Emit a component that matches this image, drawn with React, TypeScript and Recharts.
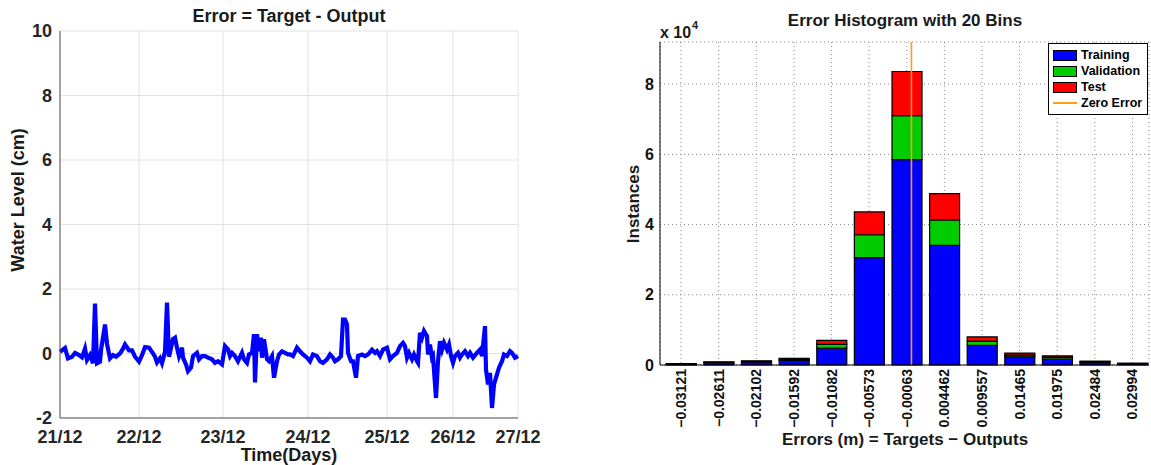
import React from 'react';
import { LineChart, Line, XAxis, YAxis, CartesianGrid, BarChart, Bar, ReferenceLine, Legend } from 'recharts';

const FONT = "'Liberation Sans', Arial, Helvetica, sans-serif";

// ---------- Left chart: error time series ----------
const sampleIdx = [
  0, 5, 8, 12, 15, 19, 22, 25, 27, 30, 33, 35, 37, 40, 41, 45, 47, 50, 53, 56,
  60, 63, 65, 69, 72, 75, 79, 82, 85, 89, 92, 95, 97, 100, 102, 105, 107, 109, 113, 115,
  117, 119, 122, 123, 126, 128, 131, 133, 137, 139, 142, 145, 148, 152, 155, 158, 162, 165, 168, 170,
  172, 175, 178, 182, 184, 187, 189, 192, 194, 195, 197, 199, 201, 202, 204, 207, 209, 212, 214, 217,
  219, 222, 225, 228, 230, 233, 237, 240, 243, 247, 250, 253, 257, 260, 263, 267, 270, 273, 275, 278,
  281, 283, 285, 287, 288, 291, 293, 296, 298, 302, 305, 308, 312, 315, 317, 320, 323, 327, 330, 333,
  337, 340, 343, 345, 347, 349, 352, 354, 357, 358, 360, 362, 364, 367, 368, 370, 372, 373, 376, 378,
  380, 382, 384, 387, 389, 391, 393, 395, 398, 400, 402, 405, 408, 410, 413, 417, 420, 422, 425, 426,
  428, 430, 432, 434, 437, 439, 442, 444, 447, 450, 452, 455, 458,
];
const errorCm = [
  0.05, 0.17, -0.15, -0.1, 0.02, -0.05, -0.12, 0.15, -0.2, -0.05, -0.3, 1.55, -0.3, -0.25, 0.1, 0.9, 0.3, -0.15, -0.05, -0.1,
  0.0, 0.15, 0.28, 0.1, 0.1, -0.1, -0.25, -0.05, 0.2, 0.18, 0.05, -0.1, -0.28, -0.15, -0.3, 0.05, 1.58, -0.1, 0.45, 0.49,
  0.18, -0.08, 0.18, -0.13, -0.34, -0.55, -0.44, -0.08, 0.02, -0.18, -0.08, -0.08, -0.13, -0.18, -0.29, -0.24, -0.34, 0.23, 0.13, -0.08,
  0.02, -0.08, -0.24, 0.02, -0.18, -0.29, -0.03, 0.02, 0.6, -0.9, 0.6, 0.07, 0.49, -0.13, 0.44, -0.18, -0.24, -0.08, -0.75, -0.24,
  -0.03, 0.07, 0.02, -0.03, -0.03, -0.08, 0.18, 0.07, -0.03, -0.13, -0.24, -0.03, -0.08, -0.24, -0.29, -0.18, -0.03, -0.13, -0.24, -0.18,
  -0.08, 1.05, 1.05, 0.9, 0.02, -0.24, -0.24, -0.75, -0.08, -0.03, -0.08, -0.03, 0.12, 0.02, 0.07, -0.08, 0.12, 0.18, -0.18, -0.08,
  0.02, 0.23, 0.33, 0.23, -0.13, 0.02, -0.18, -0.03, -0.24, -0.29, 0.64, 0.49, 0.7, 0.54, -0.03, 0.28, -0.13, -0.08, -1.38, -0.24,
  0.38, 0.12, 0.33, 0.12, 0.28, -0.08, -0.29, -0.08, 0.02, -0.13, -0.03, 0.07, -0.08, 0.02, -0.13, 0.02, 0.12, -0.08, 0.85, -0.5,
  -0.96, -0.6, -1.69, -0.96, -0.65, -0.44, -0.24, -0.03, -0.08, 0.07, 0.02, -0.13, -0.08,
];
const dayTickIdx = [0, 79, 163, 248, 327, 393, 458];
const dayLabels = ['21/12', '22/12', '23/12', '24/12', '25/12', '26/12', '27/12'];
const levelTicks = [-2, 0, 2, 4, 6, 8, 10];

// ---------- Right chart: error histogram ----------
const binCenters = [-0.03121, -0.02611, -0.02102, -0.01592, -0.01082, -0.00573, -0.00063, 0.004462, 0.009557, 0.01465, 0.01975, 0.02484, 0.02994];
const binLabels = ['\u22120.03121', '\u22120.02611', '\u22120.02102', '\u22120.01592', '\u22120.01082', '\u22120.00573', '\u22120.00063', '0.004462', '0.009557', '0.01465', '0.01975', '0.02484', '0.02994'];
const trainingCounts = [300, 650, 850, 1300, 4800, 30600, 58500, 34100, 5600, 2300, 1700, 700, 350];
const validationCounts = [50, 130, 180, 300, 1100, 6500, 12500, 7200, 1200, 500, 450, 200, 80];
const testCounts = [50, 130, 180, 300, 1100, 6500, 12600, 7500, 1200, 600, 450, 200, 80];
const instanceTicks = [0, 20000, 40000, 60000, 80000];
const seriesNames = ['Training', 'Validation', 'Test', 'Zero Error'];
const seriesColors = ['#0000FF', '#00CC00', '#FF0000', '#FF9A1A'];

const lineData = sampleIdx.map((idx, i) => ({ idx, err: errorCm[i] }));
const histData = binCenters.map((center, i) => ({
  center,
  training: trainingCounts[i],
  validation: validationCounts[i],
  test: testCounts[i],
}));
const binStep = (binCenters[binCenters.length - 1] - binCenters[0]) / (binCenters.length - 1);
const binDomain = [binCenters[0] - binStep * 0.56, binCenters[binCenters.length - 1] + binStep * 0.44];

const BinTick = (props: any) => {
  const { x, y, payload } = props;
  const i = binCenters.indexOf(payload.value);
  return (
    <text
      x={x}
      y={y}
      transform={`rotate(-90 ${x} ${y})`}
      textAnchor="end"
      dominantBaseline="central"
      fontFamily={FONT}
      fontWeight="bold"
      fontSize={14}
      fill="#111"
    >
      {binLabels[i]}
    </text>
  );
};

const HistLegend = () => (
  <div
    style={{
      border: '1px solid #000',
      background: '#fff',
      padding: '3px 3px 3px 4px',
      fontFamily: FONT,
      fontWeight: 'bold',
      fontSize: 12.5,
      lineHeight: '16px',
      color: '#000',
      width: 91,
      whiteSpace: 'nowrap',
    }}
  >
    {seriesNames.map((name, i) => (
      <div key={name} style={{ display: 'flex', alignItems: 'center', height: 16 }}>
        {i < 3 ? (
          <span style={{ display: 'inline-block', flex: '0 0 24px', width: 24, height: 11, background: seriesColors[i], border: '1px solid #000', boxSizing: 'border-box', marginRight: 4 }} />
        ) : (
          <span style={{ display: 'inline-block', flex: '0 0 24px', width: 24, height: 2, background: seriesColors[i], marginRight: 4 }} />
        )}
        <span>{name}</span>
      </div>
    ))}
  </div>
);

const textStyle = { fontFamily: FONT, fontWeight: 'bold' as const, fill: '#1a1a1a' };

export default function App() {
  return (
    <div style={{ position: 'absolute', left: 0, top: 0, width: 1151, height: 465, background: '#fff', overflow: 'hidden' }}>
      <div style={{ position: 'absolute', left: 0, top: 0 }}>
        <LineChart width={560} height={465} data={lineData} margin={{ top: 31, right: 42, bottom: 0, left: 0 }}>
          <CartesianGrid xAxisId="b" yAxisId="l" stroke="#e2e2e2" strokeWidth={1} />
          <XAxis
            xAxisId="b"
            type="number"
            dataKey="idx"
            domain={[0, 458]}
            ticks={dayTickIdx}
            interval={0}
            tickFormatter={(v: number) => dayLabels[dayTickIdx.indexOf(v)]}
            height={47}
            tickLine={false}
            tickMargin={6}
            axisLine={{ stroke: '#555' }}
            tick={{ fill: '#262626', fontSize: 18, fontWeight: 'bold', fontFamily: FONT }}
          />
          <XAxis xAxisId="t" orientation="top" type="number" dataKey="idx" domain={[0, 458]} height={0} tick={false} tickLine={false} axisLine={{ stroke: '#555' }} />
          <YAxis
            yAxisId="l"
            type="number"
            domain={[-2, 10]}
            ticks={levelTicks}
            interval={0}
            width={60}
            tickLine={false}
            axisLine={{ stroke: '#555' }}
            tick={{ fill: '#262626', fontSize: 18, fontWeight: 'bold', fontFamily: FONT }}
          />
          <YAxis yAxisId="r" orientation="right" type="number" domain={[-2, 10]} width={0} tick={false} tickLine={false} axisLine={{ stroke: '#555' }} />
          <Line xAxisId="b" yAxisId="l" type="linear" dataKey="err" stroke="#0000FF" strokeWidth={4.2} strokeLinejoin="miter" dot={false} isAnimationActive={false} />
        </LineChart>
      </div>

      <div style={{ position: 'absolute', left: 580, top: 0 }}>
        <BarChart width={571} height={465} data={histData} margin={{ top: 42, right: 2, bottom: 0, left: 20 }}>
          <CartesianGrid xAxisId="b" yAxisId="l" stroke="#888" strokeDasharray="1 3" />
          <XAxis
            xAxisId="b"
            type="number"
            dataKey="center"
            domain={binDomain}
            ticks={binCenters}
            interval={0}
            allowDataOverflow
            height={100}
            tickSize={0}
            tickMargin={4}
            tickLine={false}
            axisLine={{ stroke: '#000' }}
            tick={<BinTick />}
          />
          <XAxis xAxisId="t" orientation="top" type="number" dataKey="center" domain={binDomain} allowDataOverflow height={0} tick={false} tickLine={false} axisLine={{ stroke: '#000' }} />
          <YAxis
            yAxisId="l"
            type="number"
            domain={[0, 92000]}
            ticks={instanceTicks}
            interval={0}
            width={60}
            tickLine={false}
            tickMargin={0}
            axisLine={{ stroke: '#000' }}
            tickFormatter={(v: number) => String(v / 10000)}
            tick={{ fill: '#111', fontSize: 16, fontWeight: 'bold', fontFamily: FONT }}
          />
          <YAxis yAxisId="r" orientation="right" type="number" domain={[0, 92000]} width={0} tick={false} tickLine={false} axisLine={{ stroke: '#000' }} />
          <Bar xAxisId="b" yAxisId="l" dataKey="training" name={seriesNames[0]} stackId="s" fill={seriesColors[0]} stroke="#000" strokeWidth={1.2} barSize={30} isAnimationActive={false} />
          <Bar xAxisId="b" yAxisId="l" dataKey="validation" name={seriesNames[1]} stackId="s" fill={seriesColors[1]} stroke="#000" strokeWidth={1.2} barSize={30} isAnimationActive={false} />
          <Bar xAxisId="b" yAxisId="l" dataKey="test" name={seriesNames[2]} stackId="s" fill={seriesColors[2]} stroke="#000" strokeWidth={1.2} barSize={30} isAnimationActive={false} />
          <ReferenceLine xAxisId="b" yAxisId="l" x={0} stroke={seriesColors[3]} strokeWidth={1.6} />
          <Legend
            layout="vertical"
            align="center"
            verticalAlign="middle"
            content={<HistLegend />}
            wrapperStyle={{ position: 'absolute', left: 468, top: 43, width: 'auto', height: 'auto' }}
          />
        </BarChart>
      </div>

      <svg width={1151} height={465} style={{ position: 'absolute', left: 0, top: 0, pointerEvents: 'none' }}>
        <text x={289} y={22} textAnchor="middle" fontSize={18} {...textStyle}>Error = Target - Output</text>
        <text x={24} y={200} textAnchor="middle" fontSize={18} transform="rotate(-90 24 200)" {...textStyle}>Water Level (cm)</text>
        <text x={289} y={461} textAnchor="middle" fontSize={18} {...textStyle}>Time(Days)</text>

        <text x={905} y={26} textAnchor="middle" fontSize={17} {...textStyle}>Error Histogram with 20 Bins</text>
        <text x={660} y={38} fontSize={16} {...textStyle}>x 10</text>
        <text x={692} y={29} fontSize={11} {...textStyle}>4</text>
        <text x={639} y={204} textAnchor="middle" fontSize={17} transform="rotate(-90 639 204)" {...textStyle}>Instances</text>
        <text x={905} y={445} textAnchor="middle" fontSize={17} {...textStyle}>{'Errors (m) = Targets \u2212 Outputs'}</text>
      </svg>
    </div>
  );
}
